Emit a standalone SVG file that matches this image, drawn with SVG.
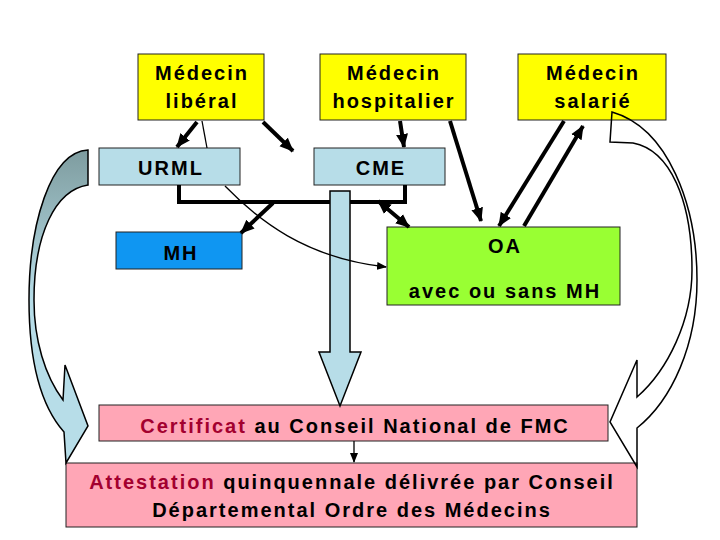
<svg xmlns="http://www.w3.org/2000/svg" width="720" height="540" viewBox="0 0 720 540">
<defs>
<style>
.t{font-family:"Liberation Sans",Arial,sans-serif;font-size:20px;font-weight:bold;letter-spacing:2px;fill:#000;text-anchor:middle}
.red{fill:#A3002F}
.yel{fill:#FFFF00;stroke:#222;stroke-width:1}
.lb{fill:#B7DDE8;stroke:#222;stroke-width:1}
.pk{fill:#FFA6B6;stroke:#222;stroke-width:1}
.thick{fill:none;stroke:#000;stroke-width:4}
.thin{fill:none;stroke:#000;stroke-width:1.3}
</style>
<marker id="ah" markerUnits="userSpaceOnUse" markerWidth="14" markerHeight="14" viewBox="0 0 14 14" refX="13" refY="7" orient="auto-start-reverse">
<path d="M0,1 L14,7 L0,13 Z" fill="#000"/>
</marker>
<marker id="sh" markerUnits="userSpaceOnUse" markerWidth="10" markerHeight="10" viewBox="0 0 10 10" refX="9" refY="5" orient="auto">
<path d="M0,1 L10,5 L0,9 Z" fill="#000"/>
</marker>
<linearGradient id="lg" x1="0" y1="150" x2="0" y2="300" gradientUnits="userSpaceOnUse">
<stop offset="0" stop-color="#7E9C9F"/>
<stop offset="1" stop-color="#B7DDE8"/>
</linearGradient>
</defs>
<rect width="720" height="540" fill="#fff"/>

<g id="medecin-liberal">
<rect class="yel" x="138" y="54" width="126" height="66"/>
<text class="t" x="202" y="80">Médecin</text>
<text class="t" x="202" y="108">libéral</text>
</g>
<g id="medecin-hospitalier">
<rect class="yel" x="320" y="54" width="146" height="66"/>
<text class="t" x="394" y="80">Médecin</text>
<text class="t" x="394" y="108">hospitalier</text>
</g>
<g id="medecin-salarie">
<rect class="yel" x="518" y="54" width="148" height="66"/>
<text class="t" x="593" y="80">Médecin</text>
<text class="t" x="593" y="108">salarié</text>
</g>
<g id="urml">
<rect class="lb" x="99" y="148" width="141" height="37"/>
<text class="t" x="171" y="175">URML</text>
</g>
<g id="cme">
<rect class="lb" x="314" y="148" width="131" height="37"/>
<text class="t" x="381" y="175">CME</text>
</g>
<g id="mh">
<rect x="116" y="232" width="126" height="37" fill="#0F96F2" stroke="#222" stroke-width="1"/>
<text class="t" x="181" y="260">MH</text>
</g>
<g id="oa">
<rect x="387" y="227" width="233" height="78" fill="#99FF33" stroke="#222" stroke-width="1"/>
<text class="t" x="505" y="253">OA</text>
<text class="t" x="505" y="298">avec ou sans MH</text>
</g>
<g id="certificat">
<rect class="pk" x="99" y="405" width="509" height="36"/>
<text class="t" x="355" y="433"><tspan class="red">Certificat</tspan> au Conseil National de FMC</text>
</g>
<g id="attestation">
<rect class="pk" x="66" y="463" width="571" height="64"/>
<text class="t" x="352" y="489"><tspan class="red">Attestation</tspan> quinquennale délivrée par Conseil</text>
<text class="t" x="352" y="517">Départemental Ordre des Médecins</text>
</g>

<g id="connectors">
<path class="thick" d="M179,185 V202 H405 V185"/>
<line class="thick" x1="197" y1="122" x2="177" y2="147" marker-end="url(#ah)"/>
<line class="thick" x1="263" y1="122" x2="293" y2="151" marker-end="url(#ah)"/>
<line class="thick" x1="400" y1="121" x2="404" y2="147" marker-end="url(#ah)"/>
<line class="thick" x1="450" y1="121" x2="481" y2="221" marker-end="url(#ah)"/>
<line class="thick" x1="564" y1="121" x2="499" y2="226" marker-end="url(#ah)"/>
<line class="thick" x1="524" y1="226" x2="583" y2="126" marker-end="url(#ah)"/>
<line class="thick" x1="273" y1="203" x2="241" y2="233" marker-end="url(#ah)"/>
<line class="thick" x1="378" y1="201" x2="409" y2="227" marker-start="url(#ah)" marker-end="url(#ah)"/>
<path d="M330,191 H350 V352 H361 L340,406 L319,352 H330 Z" fill="#B7DDE8" stroke="#000" stroke-width="1.5"/>
<line class="thin" x1="202" y1="121" x2="207" y2="148"/>
<path class="thin" d="M225,186 C258,220 305,258 386,267" marker-end="url(#sh)"/>
<line class="thin" x1="354" y1="441" x2="354" y2="462" marker-end="url(#sh)"/>
<path d="M88,150 C50,152 29,225 29,300 C29,360 40,405 64,432 L66,463 L88,426 L65,365 L63,400 C45,376 34,340 34,300 C34,235 55,190 88,185 Z" fill="url(#lg)" stroke="#000" stroke-width="1.5"/>
<path d="M612,112 C668,128 697,205 697,280 C697,345 672,400 637,428 L637,467 L610,422 L637,360 L637,397 C668,370 692,320 692,270 C692,200 670,150 633,143 L610,142 Z" fill="none" stroke="#000" stroke-width="1.5"/>
</g>
</svg>
